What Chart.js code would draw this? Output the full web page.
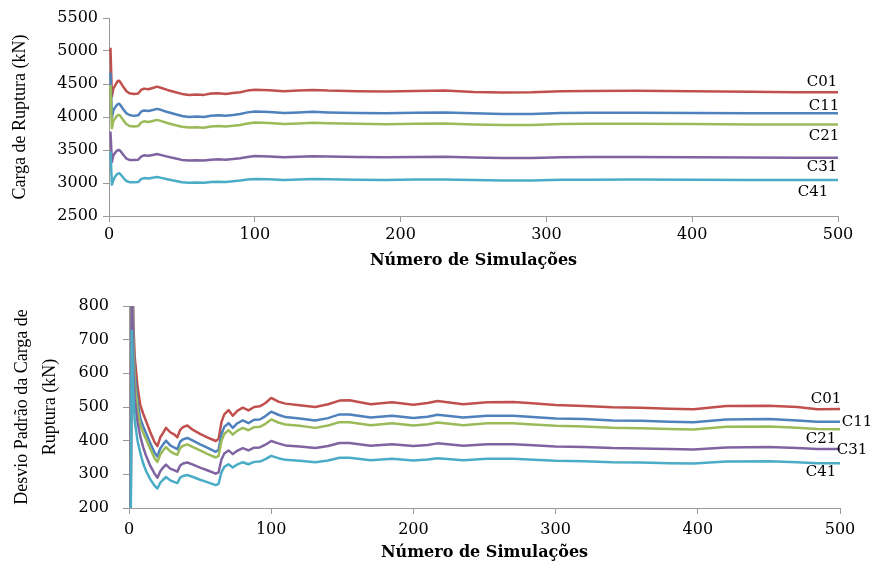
<!DOCTYPE html>
<html lang="pt">
<head>
<meta charset="UTF-8">
<title>Carga de Ruptura - Simulações</title>
<script src="https://cdn.jsdelivr.net/npm/chart.js"></script>
<style>
  body { margin: 0; background: #fff; }
  #wrap { position: relative; width: 877px; height: 563px; }
  #cargaChart { position: absolute; left: 0; top: 0; }
  #desvioChart { position: absolute; left: 0; top: 280px; }
</style>
</head>
<body>
<div id="wrap">
  <canvas id="cargaChart" width="877" height="275"></canvas>
  <canvas id="desvioChart" width="877" height="283"></canvas>
</div>
<script>
// ---- data ----
const seriesNames = ['C01', 'C11', 'C21', 'C31', 'C41'];

// top chart: mean failure load (kN) vs number of simulations
const simTop = [1, 2, 3, 4, 5, 6, 7, 8, 10, 12,
  14, 17, 20, 22, 24, 27, 30, 33, 36, 40,
  45, 50, 55, 60, 65, 70, 75, 80, 85, 90,
  95, 100, 110, 120, 130, 140, 150, 170, 190, 210,
  230, 250, 270, 290, 310, 330, 360, 400, 440, 470,
  500];
const cargaC01 = [5050, 4310, 4430, 4470, 4510, 4545, 4550, 4520, 4450, 4390,
  4360, 4350, 4355, 4410, 4430, 4420, 4440, 4460, 4440, 4410,
  4380, 4350, 4335, 4340, 4335, 4355, 4360, 4350, 4365, 4375,
  4400, 4412, 4405, 4390, 4400, 4410, 4400, 4392, 4388, 4395,
  4400, 4380, 4372, 4375, 4392, 4395, 4398, 4392, 4382, 4376,
  4376];
const cargaC11 = [4670, 3990, 4100, 4140, 4170, 4195, 4200, 4175, 4110, 4055,
  4030, 4017, 4025, 4080, 4100, 4090, 4105, 4123, 4105, 4075,
  4045, 4015, 4000, 4006, 4000, 4020, 4025, 4018, 4030, 4045,
  4070, 4082, 4075, 4060, 4070, 4078, 4070, 4062, 4058, 4065,
  4068, 4055, 4045, 4045, 4060, 4063, 4065, 4062, 4055, 4055,
  4058];
const cargaC21 = [4487, 3830, 3940, 3975, 4005, 4028, 4032, 4010, 3945, 3890,
  3865, 3855, 3862, 3915, 3935, 3925, 3940, 3956, 3938, 3910,
  3880, 3852, 3840, 3845, 3838, 3855, 3862, 3855, 3866, 3880,
  3903, 3915, 3910, 3895, 3903, 3912, 3905, 3897, 3892, 3898,
  3900, 3888, 3880, 3880, 3893, 3896, 3898, 3895, 3888, 3885,
  3885];
const cargaC31 = [3780, 3320, 3420, 3450, 3480, 3497, 3500, 3480, 3420, 3370,
  3350, 3347, 3352, 3400, 3420, 3412, 3425, 3439, 3422, 3400,
  3375, 3350, 3340, 3345, 3340, 3352, 3358, 3352, 3362, 3375,
  3395, 3408, 3402, 3390, 3398, 3405, 3400, 3394, 3390, 3395,
  3397, 3386, 3378, 3378, 3390, 3393, 3395, 3392, 3386, 3384,
  3384];
const cargaC41 = [3477, 2975, 3040, 3090, 3120, 3142, 3148, 3130, 3075, 3030,
  3012, 3010, 3015, 3058, 3075, 3068, 3080, 3092, 3078, 3058,
  3035, 3012, 3002, 3008, 3004, 3015, 3020, 3015, 3025, 3037,
  3052, 3061, 3058, 3046, 3052, 3060, 3056, 3050, 3046, 3052,
  3054, 3044, 3036, 3036, 3048, 3050, 3052, 3050, 3046, 3046,
  3046];

// bottom chart: standard deviation of failure load (kN)
const simBottom = [1, 2, 3, 4, 6, 8, 10, 12, 15, 18,
  20, 22, 24, 26, 29, 32, 34, 36, 38, 41,
  45, 50, 55, 61, 63, 65, 67, 70, 73, 76,
  80, 84, 88, 92, 96, 100, 105, 110, 120, 131,
  140, 148, 155, 170, 185, 200, 210, 217, 235, 252,
  270, 281, 300, 320, 340, 360, 380, 397, 420, 450,
  470, 484, 500];
const desvioC01 = [0, 1150, 760, 650, 560, 505, 480, 458, 425, 395,
  384, 410, 423, 438, 425, 418, 410, 432, 440, 445,
  432, 420, 410, 399, 405, 455, 478, 491, 474, 488,
  498, 490, 500, 502, 512, 527, 516, 510, 505, 500,
  508, 519, 520, 508, 514, 507, 512, 518, 508, 514,
  515, 512, 506, 503, 499, 498, 495, 493, 503, 504,
  500, 493, 494];
const desvioC11 = [0, 1050, 710, 600, 516, 465, 442, 422, 392, 364,
  353, 377, 389, 400, 386, 379, 375, 397, 404, 408,
  400, 389, 379, 367, 373, 419, 441, 452, 438, 451,
  460, 452, 462, 463, 473, 486, 477, 470, 466, 460,
  467, 478, 478, 469, 474, 467, 471, 477, 469, 474,
  474, 471, 466, 464, 460, 459, 456, 455, 463, 464,
  460, 456, 456];
const desvioC21 = [0, 980, 680, 573, 493, 445, 423, 404, 375, 348,
  337, 359, 371, 381, 368, 361, 358, 378, 385, 389,
  381, 371, 361, 350, 355, 399, 420, 431, 418, 429,
  438, 431, 440, 441, 450, 463, 454, 448, 444, 438,
  445, 455, 455, 446, 452, 445, 449, 454, 446, 452,
  452, 449, 444, 442, 438, 437, 435, 433, 441, 442,
  438, 435, 434];
const desvioC31 = [0, 900, 620, 525, 455, 412, 380, 355, 325, 302,
  290, 309, 320, 329, 317, 312, 308, 326, 332, 335,
  329, 320, 312, 302, 306, 344, 362, 371, 360, 370,
  378, 371, 379, 380, 388, 399, 392, 386, 383, 378,
  384, 393, 393, 385, 389, 384, 387, 392, 385, 389,
  389, 387, 383, 381, 378, 377, 375, 374, 380, 381,
  378, 375, 375];
const desvioC41 = [0, 726, 540, 460, 400, 362, 332, 310, 285, 266,
  258, 275, 284, 292, 282, 277, 274, 290, 295, 298,
  292, 284, 277, 268, 272, 306, 322, 330, 320, 329,
  336, 330, 337, 338, 345, 355, 348, 343, 340, 336,
  341, 349, 349, 342, 346, 341, 344, 348, 342, 346,
  346, 344, 340, 339, 336, 335, 333, 332, 338, 339,
  336, 333, 333];

const xTitle = 'Número de Simulações';

// ---- styling ----
const lineColors = ['#C0504D', '#4F81BD', '#9BBB59', '#8064A2', '#4BACC6'];
const axisGray = '#9a9a9a';
const serif = "'DejaVu Serif', serif";
const timesLike = "'Liberation Serif', serif";

// writes the series name next to the end of each line
const endLabels = {
  id: 'endLabels',
  afterDatasetsDraw(chart, args, opts) {
    const ctx = chart.ctx;
    ctx.save();
    ctx.font = '15px ' + serif;
    ctx.fillStyle = '#000';
    ctx.textAlign = 'center';
    ctx.textBaseline = 'middle';
    chart.data.datasets.forEach((ds, i) => {
      const last = ds.data[ds.data.length - 1];
      const x = chart.scales.x.getPixelForValue(last.x) + opts.offsets[i][0];
      const y = chart.scales.y.getPixelForValue(last.y) + opts.offsets[i][1];
      ctx.fillText(ds.label, x, y);
    });
    ctx.restore();
  }
};

function makeChart(id, xs, series, cfg) {
  const datasets = series.map((ys, i) => ({
    label: seriesNames[i],
    data: xs.map((x, j) => ({ x: x, y: ys[j] })),
    borderColor: lineColors[i],
    borderWidth: 2.5,
    borderJoinStyle: 'round',
    pointRadius: 0,
    tension: 0,
    order: series.length - i
  }));

  return new Chart(document.getElementById(id), {
    type: 'line',
    data: { datasets: datasets },
    options: {
      responsive: false,
      animation: false,
      layout: { padding: cfg.padding },
      plugins: {
        legend: { display: false },
        tooltip: { enabled: false },
        endLabels: { offsets: cfg.labelOffsets }
      },
      scales: {
        x: {
          type: 'linear',
          min: 0, max: 500,
          afterFit: s => { s.height = cfg.xHeight; },
          ticks: { stepSize: 100, padding: cfg.xTickPad, color: '#000', font: { family: serif, size: 16 },
                   callback: v => String(v) },
          grid: { drawOnChartArea: false, drawTicks: true, tickLength: 6, color: axisGray },
          border: { color: axisGray },
          title: {
            display: true, text: xTitle, color: '#000',
            font: { family: serif, size: 16, weight: 'bold' },
            padding: { top: 0, bottom: cfg.xTitlePad }
          }
        },
        y: {
          min: cfg.yMin, max: cfg.yMax,
          afterFit: s => { s.width = cfg.yWidth; },
          ticks: { stepSize: cfg.yStep, padding: cfg.yTickPad, color: '#000', font: { family: serif, size: 16 },
                   callback: v => String(v) },
          grid: { drawOnChartArea: false, drawTicks: true, tickLength: 6, color: axisGray },
          border: { color: axisGray },
          title: {
            display: true, text: cfg.yTitle, color: '#000',
            font: { family: timesLike, size: 18, lineHeight: cfg.yTitleLH },
            padding: { top: cfg.yTitlePad, bottom: 0 }
          }
        }
      }
    },
    plugins: [endLabels]
  });
}

makeChart('cargaChart', simTop, [cargaC01, cargaC11, cargaC21, cargaC31, cargaC41], {
  padding: { top: 18, right: 39, bottom: 0, left: 0 },
  xHeight: 59, xTickPad: 3, xTitlePad: 5,
  yWidth: 109, yTickPad: 5, yTitlePad: 9, yTitleLH: 1.2,
  yMin: 2500, yMax: 5500, yStep: 500,
  yTitle: 'Carga de Ruptura (kN)',
  labelOffsets: [[-16, -10], [-14, -7], [-14, 12], [-16, 9], [-25, 12]]
});

makeChart('desvioChart', simBottom, [desvioC01, desvioC11, desvioC21, desvioC31, desvioC41], {
  padding: { top: 26, right: 37, bottom: 0, left: 0 },
  xHeight: 55, xTickPad: 6, xTitlePad: 1,
  yWidth: 129, yTickPad: 14, yTitlePad: 8, yTitleLH: 1.556,
  yMin: 200, yMax: 800, yStep: 100,
  yTitle: ['Desvio Padrão da Carga de', 'Ruptura (kN)'],
  labelOffsets: [[-14, -10], [17, 0], [-19, 10], [12, 1], [-19, 9]]
});
</script>
</body>
</html>
